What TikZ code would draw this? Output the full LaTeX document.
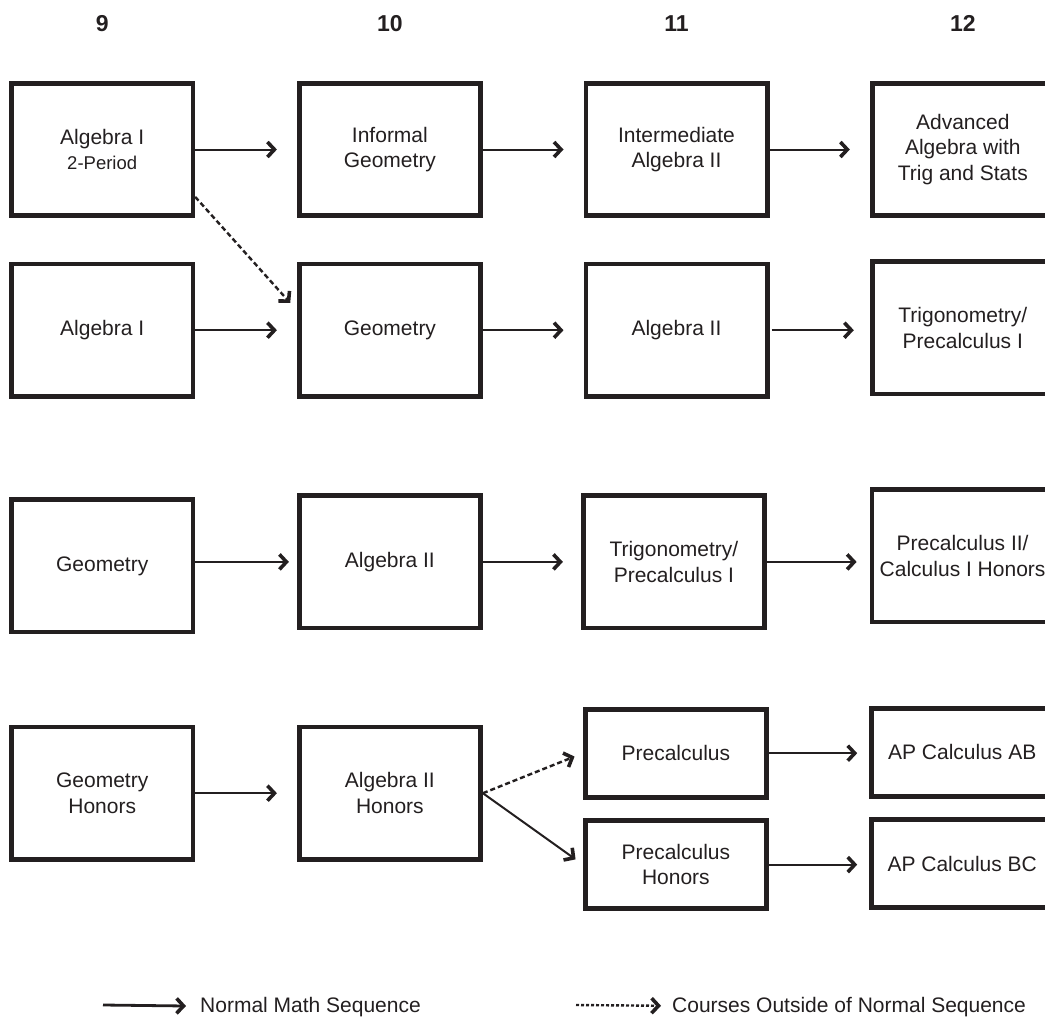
\documentclass[tikz,border=0pt]{standalone}
\usepackage{fontspec}
\setmainfont{Liberation Sans}
\usetikzlibrary{positioning}
\usetikzlibrary{arrows.meta}
\definecolor{ink}{HTML}{231F20}

\begin{document}
\begin{tikzpicture}[x=1pt, y=1pt, color=ink,
    course/.style={draw=ink, line width=4.7pt, minimum width=181.3pt, minimum height=132.3pt, align=center, text=ink, inner sep=2pt, font=\fontsize{21}{25.5}\selectfont},
    smallcourse/.style={course, minimum height=88pt},
    grade/.style={inner sep=0pt, font=\fontsize{23}{27}\selectfont\bfseries},
    legend/.style={inner sep=0pt, yshift=-2.5pt, font=\fontsize{21}{24}\selectfont},
    seq/.style={line width=2pt, -{Straight Barb[length=7pt,width=15pt,line width=3.6pt]}, shorten >=20pt},
    offseq/.style={seq, line width=2.4pt, dash pattern=on 5pt off 3pt}]

    \useasboundingbox (0,0) rectangle (1045,-1017);
    \clip (0,0) rectangle (1045,-1017);

    \node[course] (a1) at (102.2,-149.5) {Algebra I\\{\fontsize{18.5}{21}\selectfont 2-Period}};
    \node[course, right=101.7pt of a1] (b1) {Informal\\Geometry};
    \node[course, right=100.6pt of b1] (c1) {Intermediate\\Algebra II};
    \node[course, right=100.3pt of c1] (d1) {Advanced\\Algebra with\\Trig and Stats};

    \node[grade, above=49pt of a1] (g9) {9};
    \node[grade, above=49pt of b1] (g10) {10};
    \node[grade, above=49pt of c1] (g11) {11};
    \node[grade, above=49pt of d1] (g12) {12};

    \node[course, below=43.7pt of a1] (a2) {Algebra I};
    \node[course, right=101.7pt of a2] (b2) {Geometry};
    \node[course, right=100.6pt of b2] (c2) {Algebra II};
    \node[course, right=100.3pt of c2, yshift=2.3pt] (d2) {Trigonometry/\\Precalculus I};

    \node[course, below=98.7pt of a2] (a3) {Geometry};
    \node[course, right=101.7pt of a3, yshift=4pt] (b3) {Algebra II};
    \node[course, right=98pt of b3] (c3) {Trigonometry/\\Precalculus I};
    \node[course, right=102.7pt of c3, yshift=6pt] (d3) {Precalculus II/\\Calculus I Honors};

    \node[course, below=90.3pt of a3] (a4) {Geometry\\Honors};
    \node[course, right=101.7pt of a4] (b4) {Algebra II\\Honors};
    \node[smallcourse, right=100pt of b4, yshift=40pt] (c4) {Precalculus};
    \node[smallcourse, below=18.7pt of c4] (e4) {Precalculus\\Honors};
    \node[smallcourse, right=100.3pt of c4, yshift=1pt] (d4) {AP Calculus AB};
    \node[smallcourse, right=100.3pt of e4, yshift=1pt] (f4) {AP Calculus BC};

    \draw[seq] (a1) -- (b1);
    \draw[seq] (b1) -- (c1);
    \draw[seq] (c1) -- (d1);
    \draw[offseq, shorten >=10pt] (a1.-27.6) -- (b2.168);

    \draw[seq] (a2) -- (b2);
    \draw[seq] (b2) -- (c2);
    \draw[seq, shorten <=2pt, shorten >=16pt] (c2) -- (c2 -| d2.west);

    \draw[seq, shorten >=8pt] (a3.east |- b3) -- (b3);
    \draw[seq, shorten >=18pt] (b3) -- (c3);
    \draw[seq, shorten >=13pt] (c3) -- (c3 -| d3.west);

    \draw[seq] (a4) -- (b4);
    \draw[offseq, shorten >=9pt] (b4.east) -- (c4.west);
    \draw[seq, shorten >=9pt] (b4.east) -- (e4.west);
    \draw[seq, shorten >=12pt] (c4) -- (c4 -| d4.west);
    \draw[seq, shorten >=12pt] (e4) -- (e4 -| f4.west);

    \coordinate (s0) at (103,-1005);
    \node[legend, right=97pt of s0] (s1) {Normal Math Sequence};
    \draw[seq, line width=2.8pt, shorten >=14pt] (s0) -- (s1);

    \coordinate (t0) at (576,-1005);
    \node[legend, right=96pt of t0] (t1) {Courses Outside of Normal Sequence};
    \draw[seq, line width=2.4pt, dash pattern=on 3pt off 2pt, shorten >=11pt] (t0) -- (t1);
\end{tikzpicture}
\end{document}
